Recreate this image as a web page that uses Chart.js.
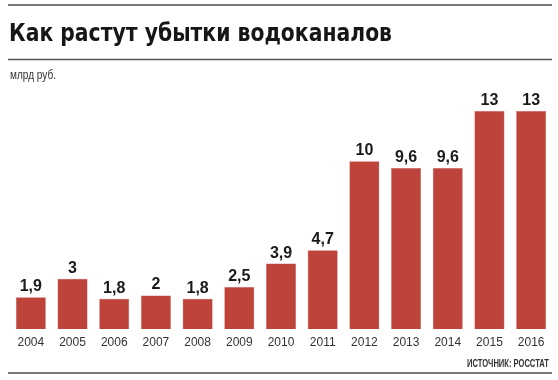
<!DOCTYPE html>
<html>
<head>
<meta charset="utf-8">
<script src="https://cdn.jsdelivr.net/npm/chart.js@4"></script>
<style>
  html, body { margin: 0; padding: 0; background: #fff; }
  #wrap { width: 558px; height: 380px; }
</style>
</head>
<body>
<div id="wrap"><canvas id="grafico" width="558" height="380"></canvas></div>
<script>
// Dados do gráfico
const anos = ['2004', '2005', '2006', '2007', '2008', '2009', '2010', '2011', '2012', '2013', '2014', '2015', '2016'];
const perdas = [1.9, 3, 1.8, 2, 1.8, 2.5, 3.9, 4.7, 10, 9.6, 9.6, 13, 13];

const titulo = 'Как растут убытки водоканалов';
const unidade = 'млрд руб.';
const fonte = 'ИСТОЧНИК: РОССТАТ';

// texto comprimido para caber numa largura
function textoLargura(ctx, txt, x, y, largura) {
    const w = ctx.measureText(txt).width;
    ctx.save();
    ctx.translate(x, y);
    ctx.scale(largura / w, 1);
    ctx.fillText(txt, 0, 0);
    ctx.restore();
}

const decoracao = {
    id: 'decoracao',
    afterDraw(chart) {
        const ctx = chart.ctx;
        ctx.save();
        // linhas
        ctx.strokeStyle = '#7a7a7a';
        ctx.lineWidth = 2;
        ctx.beginPath();
        ctx.moveTo(8, 5); ctx.lineTo(552, 5);
        ctx.moveTo(8, 373); ctx.lineTo(552, 373);
        ctx.stroke();
        ctx.strokeStyle = '#555';
        ctx.lineWidth = 1.5;
        ctx.beginPath();
        ctx.moveTo(8, 59.5); ctx.lineTo(552, 59.5);
        ctx.stroke();

        // titulo
        ctx.fillStyle = '#161616';
        ctx.textBaseline = 'alphabetic';
        ctx.font = 'bold 25px "DejaVu Sans", sans-serif';
        textoLargura(ctx, titulo, 9, 41, 383);

        ctx.fillStyle = '#333';
        ctx.font = '12.5px "Liberation Sans Narrow", sans-serif';
        textoLargura(ctx, unidade, 10, 79, 46);

        ctx.font = 'bold 10.5px "Liberation Sans Narrow", sans-serif';
        ctx.fillStyle = '#333';
        textoLargura(ctx, fonte, 467, 367, 82);

        // valores acima das barras
        const meta = chart.getDatasetMeta(0);
        ctx.font = 'bold 16px "Liberation Sans", Arial, sans-serif';
        ctx.fillStyle = '#1a1a1a';
        ctx.textAlign = 'center';
        meta.data.forEach((barra, i) => {
            const txt = String(perdas[i]).replace('.', ',');
            ctx.fillText(txt, barra.x, barra.y - 6);
        });
        ctx.restore();
    }
};

const ctx = document.getElementById('grafico').getContext('2d');
const grafico = new Chart(ctx, {
    type: 'bar',
    data: {
        labels: anos,
        datasets: [{
            data: perdas,
            backgroundColor: '#bd433b',
            borderColor: '#c95a52',
            borderWidth: 0.5,
            barPercentage: 0.72,
            categoryPercentage: 1
        }]
    },
    options: {
        responsive: false,
        animation: false,
        layout: { padding: { top: 77.5, bottom: 24.6, left: 10, right: 6 } },
        plugins: {
            legend: { display: false },
            tooltip: { enabled: false }
        },
        scales: {
            x: {
                grid: { display: false, drawTicks: false },
                border: { display: false },
                ticks: {
                    color: '#333',
                    padding: 6,
                    font: { size: 12, family: '"Liberation Sans", Arial, sans-serif' }
                }
            },
            y: {
                display: false,
                min: 0,
                max: 15
            }
        }
    },
    plugins: [decoracao]
});
</script>
</body>
</html>
